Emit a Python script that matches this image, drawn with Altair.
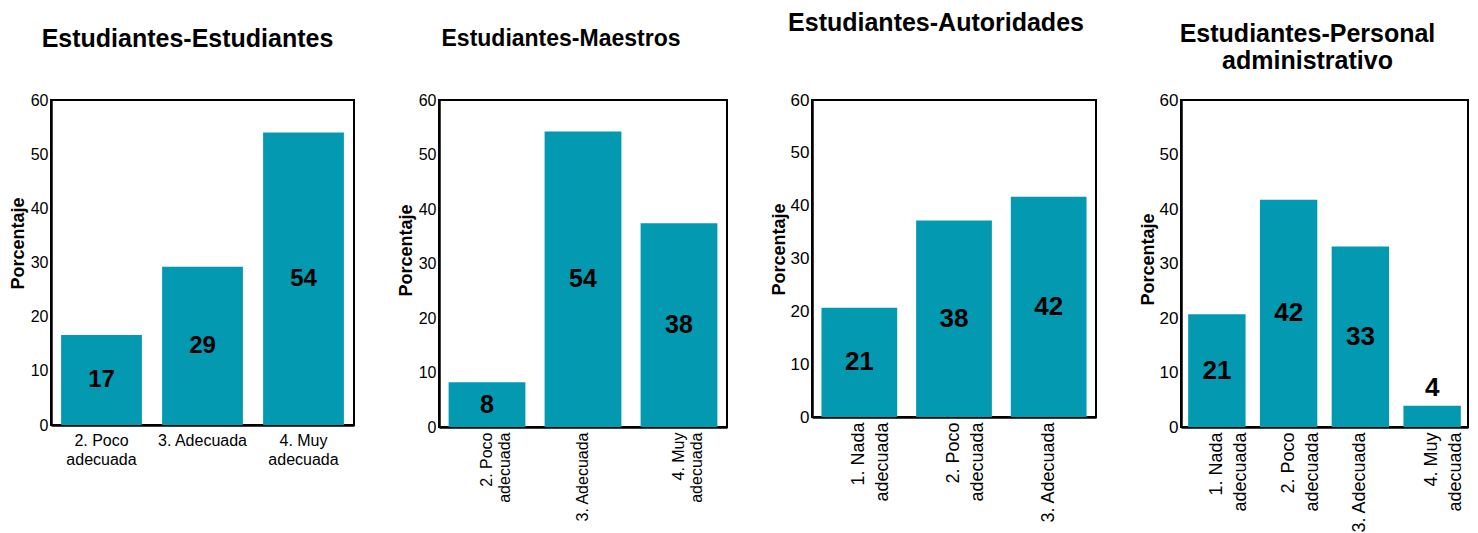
import altair as alt
import pandas as pd

FONT = "Liberation Sans"
BAR_COLOR = "#0399B0"

# ---- data ----
titles = [
    ["Estudiantes-Estudiantes"],
    ["Estudiantes-Maestros"],
    ["Estudiantes-Autoridades"],
    ["Estudiantes-Personal", "administrativo"],
]

cats1 = ["2. Poco adecuada", "3. Adecuada", "4. Muy adecuada"]
vals1 = [16.6, 29.2, 54.0]
labs1 = ["17", "29", "54"]

cats2 = ["2. Poco adecuada", "3. Adecuada", "4. Muy adecuada"]
vals2 = [8.2, 54.2, 37.4]
labs2 = ["8", "54", "38"]

cats3 = ["1. Nada adecuada", "2. Poco adecuada", "3. Adecuada"]
vals3 = [20.7, 37.2, 41.7]
labs3 = ["21", "38", "42"]

cats4 = ["1. Nada adecuada", "2. Poco adecuada", "3. Adecuada", "4. Muy adecuada"]
vals4 = [20.7, 41.7, 33.1, 3.9]
labs4 = ["21", "42", "33", "4"]

y_ticks = [0, 10, 20, 30, 40, 50, 60]

LABEL_EXPR = ("indexof(datum.label, ' adecuada') > 0 ? "
              "[replace(datum.label, ' adecuada', ''), 'adecuada'] : datum.label")


def panel(cats, vals, labs, title, width, height, title_offset, title_size,
          title_dx, rotate, xlabel_size, line_height, xlabel_pad, ytitle_y,
          ylabel_size, text_size):
    df = pd.DataFrame({"cat": cats, "v": vals, "lab": labs})
    xaxis = alt.Axis(
        title=None,
        labelAngle=-90 if rotate else 0,
        labelAlign="right" if rotate else "center",
        labelBaseline="middle" if rotate else "top",
        labelExpr=LABEL_EXPR,
        labelFontSize=xlabel_size,
        labelLineHeight=line_height,
        labelPadding=xlabel_pad,
        ticks=False,
        domainWidth=2.5,
        domainColor="black",
        labelColor="black",
        labelFont=FONT,
        labelOverlap=False,
        labelLimit=0,
    )
    yaxis = alt.Axis(
        values=y_ticks,
        ticks=False,
        grid=False,
        domainWidth=2.5,
        domainColor="black",
        labelColor="black",
        labelFont=FONT,
        labelFontSize=ylabel_size,
        labelPadding=3,
        title="Porcentaje",
        titleFont=FONT,
        titleFontSize=18,
        titleFontWeight="bold",
        titleColor="black",
        titleX=-24,
        titleY=ytitle_y,
        titleBaseline="bottom",
        titleAngle=-90,
    )
    x = alt.X("cat:N", sort=None, scale=alt.Scale(paddingInner=0.2, paddingOuter=0.1), axis=xaxis)
    base = alt.Chart(df)
    bars = base.mark_bar(color=BAR_COLOR).encode(
        x=x,
        y=alt.Y("v:Q", scale=alt.Scale(domain=[0, 60], nice=False), axis=yaxis),
    )
    text = base.transform_calculate(
        ly="datum.v < 6 ? datum.v + 3.2 : datum.v / 2"
    ).mark_text(
        font=FONT, fontWeight="bold", fontSize=text_size, color="black", baseline="middle"
    ).encode(
        x=alt.X("cat:N", sort=None),
        y=alt.Y("ly:Q"),
        text="lab:N",
    )
    return alt.layer(bars, text).properties(
        width=width,
        height=height,
        view=alt.ViewBackground(stroke="#000000", strokeWidth=2, strokeOpacity=1),
        title=alt.TitleParams(
            text=title,
            font=FONT,
            fontSize=title_size,
            fontWeight="bold",
            color="black",
            anchor="middle",
            frame="group",
            offset=title_offset,
            dx=title_dx,
            lineHeight=27,
        ),
    )


p1 = panel(cats1, vals1, labs1, titles[0], 303, 325, 40, 25, -15, False, 16, 19, 7, 143, 16, 24)
p2 = panel(cats2, vals2, labs2, titles[1], 288, 327, 41, 23, -22, True, 16, 18, 5, 150, 16, 25)
p3 = panel(cats3, vals3, labs3, titles[2], 284, 317, 55, 25, -18, True, 18, 24, 5, 149, 17, 26)
p4 = panel(cats4, vals4, labs4, titles[3], 287, 327, 17, 25, -17, True, 18, 24, 5, 159, 17, 26)

chart = alt.hconcat(p1, p2, p3, p4, spacing=85, bounds="flush").properties(
    padding={"left": 0, "top": 2, "right": 0, "bottom": 0}
).configure_view(
    stroke="#000000", strokeWidth=2
).configure(
    background="white"
)

chart.save("out.html", embed_options={"renderer": "svg", "actions": False})
